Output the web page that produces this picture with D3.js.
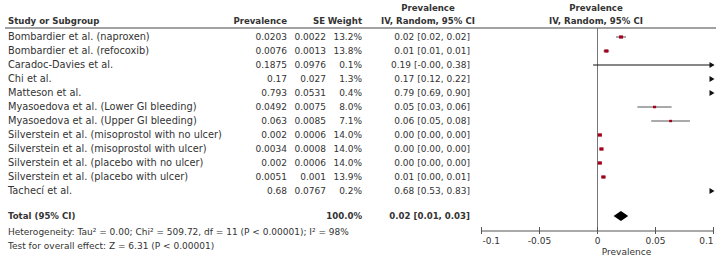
<!DOCTYPE html>
<html>
<head>
<meta charset="utf-8">
<script src="https://cdn.jsdelivr.net/npm/d3@7"></script>
<style>
  body { margin: 0; background: #fff; }
  svg text { font-family: "DejaVu Sans", Arial, sans-serif; font-size: 9px; fill: #333; }
  svg text.b { font-weight: bold; font-size: 8.6px; }
  svg text.name { font-size: 9.8px; }
</style>
</head>
<body>
<svg id="chart" width="723" height="260"></svg>
<script>
// study data
const studies = [
    "Bombardier et al. (naproxen)",
    "Bombardier et al. (refocoxib)",
    "Caradoc-Davies et al.",
    "Chi et al.",
    "Matteson et al.",
    "Myasoedova et al. (Lower GI bleeding)",
    "Myasoedova et al. (Upper GI bleeding)",
    "Silverstein et al. (misoprostol with no ulcer)",
    "Silverstein et al. (misoprostol with ulcer)",
    "Silverstein et al. (placebo with no ulcer)",
    "Silverstein et al. (placebo with ulcer)",
    "Tachecí et al."
];
const prevalence = [0.0203, 0.0076, 0.1875, 0.17, 0.793, 0.0492, 0.063, 0.002, 0.0034, 0.002, 0.0051, 0.68];
const se = [0.0022, 0.0013, 0.0976, 0.027, 0.0531, 0.0075, 0.0085, 0.0006, 0.0008, 0.0006, 0.001, 0.0767];
const weight = [13.2, 13.8, 0.1, 1.3, 0.4, 8.0, 7.1, 14.0, 14.0, 14.0, 13.9, 0.2];
const ciLow = [0.0160, 0.0051, -0.0038, 0.117, 0.689, 0.0344, 0.0463, 0.0008, 0.0018, 0.0008, 0.0031, 0.530];
const ciHigh = [0.0246, 0.0101, 0.3788, 0.223, 0.897, 0.0639, 0.0797, 0.0032, 0.0049, 0.0032, 0.0071, 0.830];

// pooled estimate
const total = { est: 0.0202, low: 0.0139, high: 0.0265 };
const axisTicks = [-0.1, -0.05, 0, 0.05, 0.1];
const tickLabels = ["-0.1", "-0.05", "0", "0.05", "0.1"];
const heterogeneity = "Heterogeneity: Tau\u00b2 = 0.00; Chi\u00b2 = 509.72, df = 11 (P < 0.00001); I\u00b2 = 98%";
const overallTest = "Test for overall effect: Z = 6.31 (P < 0.00001)";

const svg = d3.select("#chart");

const x = d3.scaleLinear().domain([-0.1, 0.1]).range([481.5, 713.5]);
const y = d3.scaleLinear().domain([0, 1]).range([37, 51]); // row index -> y
const rowY = i => y(i);
const totalY = 216;
const axisY = 231;
const fmt = v => v.toFixed(2);

// column positions
const colStudy = 8, colPrev = 287, colSE = 326, colW = 362, colCI = 470;

function txt(xp, yp, s, anchor, cls) {
    return svg.append("text")
        .attr("x", xp).attr("y", yp)
        .attr("dy", "0.35em")
        .attr("text-anchor", anchor || "start")
        .attr("class", cls || null)
        .text(s);
}

// header
txt(colStudy, 21, "Study or Subgroup", "start", "b");
txt(colPrev, 21, "Prevalence", "end", "b");
txt(colSE - 1, 21, "SE", "end", "b");
txt(colW, 21, "Weight", "end", "b");
txt(428, 8, "Prevalence", "middle", "b");
txt(428, 21, "IV, Random, 95% CI", "middle", "b");
txt(596, 8, "Prevalence", "middle", "b");
txt(596, 21, "IV, Random, 95% CI", "middle", "b");

svg.append("line")
    .attr("x1", 5).attr("x2", 716)
    .attr("y1", 28).attr("y2", 28)
    .attr("stroke", "#444").attr("stroke-width", 1);

// zero line
svg.append("line")
    .attr("x1", x(0)).attr("x2", x(0))
    .attr("y1", 28).attr("y2", axisY)
    .attr("stroke", "#777").attr("stroke-width", 1);

// table rows
studies.forEach((s, i) => {
    const yy = rowY(i);
    txt(colStudy, yy, s, "start", "name");
    txt(colPrev, yy, String(prevalence[i]), "end");
    txt(colSE, yy, String(se[i]), "end");
    txt(colW, yy, weight[i].toFixed(1) + "%", "end");
    txt(colCI, yy, fmt(prevalence[i]) + " [" + fmt(ciLow[i]) + ", " + fmt(ciHigh[i]) + "]", "end");
});

// forest marks
const [dMin, dMax] = x.domain();
const clamp = v => Math.max(dMin, Math.min(dMax, v));
const arrow = (xp, yp) => `M${xp - 4},${yp - 3}L${xp + 1},${yp}L${xp - 4},${yp + 3}Z`;

studies.forEach((s, i) => {
    const yy = rowY(i);
    const lo = ciLow[i], hi = ciHigh[i];
    if (hi < dMin || lo > dMax) {
        // whole CI off scale: draw arrow only
        svg.append("path").attr("d", arrow(x(dMax), yy)).attr("fill", "#111");
        return;
    }
    svg.append("line")
        .attr("x1", x(clamp(lo))).attr("x2", x(clamp(hi)))
        .attr("y1", yy).attr("y2", yy)
        .attr("stroke", hi > dMax ? "#111" : "#555").attr("stroke-width", 1);
    if (hi > dMax) svg.append("path").attr("d", arrow(x(dMax), yy)).attr("fill", "#111");
    const p = prevalence[i];
    if (p >= dMin && p <= dMax) {
        const sz = Math.max(1.5, Math.sqrt(weight[i]) * 1.1);
        svg.append("rect")
            .attr("x", x(p) - sz / 2).attr("y", yy - sz * 0.4)
            .attr("width", sz).attr("height", sz * 0.8)
            .attr("fill", "#a3001c");
    }
});

// total row
txt(colStudy, totalY, "Total (95% CI)", "start", "b");
txt(colW, totalY, "100.0%", "end", "b");
txt(colCI, totalY, fmt(total.est) + " [" + fmt(total.low) + ", " + fmt(total.high) + "]", "end", "b");
svg.append("path")
    .attr("d", `M${x(total.low)},${totalY}L${x(total.est)},${totalY - 5}L${x(total.high)},${totalY}L${x(total.est)},${totalY + 5}Z`)
    .attr("fill", "#000");

txt(colStudy, 232, heterogeneity);
txt(colStudy, 246, overallTest);

// axis
svg.append("line")
    .attr("x1", x(dMin)).attr("x2", x(dMax))
    .attr("y1", axisY).attr("y2", axisY)
    .attr("stroke", "#555");
axisTicks.forEach((t, i) => {
    svg.append("line")
        .attr("x1", x(t)).attr("x2", x(t))
        .attr("y1", axisY - 4).attr("y2", axisY + 3)
        .attr("stroke", "#555");
    const anchor = i === 0 ? "start" : (i === axisTicks.length - 1 ? "end" : "middle");
    txt(x(t) + (i === 0 ? 1 : 0), 241, tickLabels[i], anchor);
});
txt(x(0.025), 252, "Prevalence", "middle");
</script>
</body>
</html>
